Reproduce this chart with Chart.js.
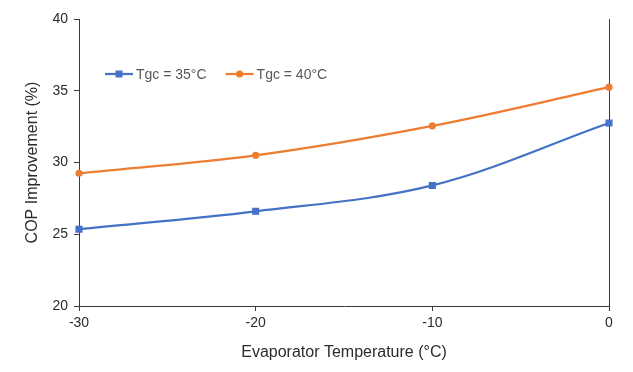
<!DOCTYPE html>
<html>
<head>
<meta charset="utf-8">
<script src="https://cdn.jsdelivr.net/npm/chart.js@4/dist/chart.umd.min.js"></script>
<style>
html,body{margin:0;padding:0;background:#fff;}
#wrap{width:633px;height:372px;position:relative;}
</style>
</head>
<body>
<div id="wrap"><canvas id="c" width="633" height="372"></canvas></div>
<script>
const evapTemps = [-30, -20, -10, 0];
const tgc35 = [25.35, 26.6, 28.4, 32.75];
const tgc40 = [29.25, 30.5, 32.55, 35.25];
const seriesLabels = ['Tgc = 35°C', 'Tgc = 40°C'];
const xTicks = [-30, -20, -10, 0];
const yTicks = [20, 25, 30, 35, 40];
const xTitle = 'Evaporator Temperature (°C)';
const yTitle = 'COP Improvement (%)';

const BLUE = '#4472C4', ORANGE = '#ED7D31', AXIS = '#3a3a3a', TEXT = '#2b2b2b';
const FONT = '"Liberation Sans", Arial, sans-serif';

const legendPlugin = {
  id: 'inlineLegend',
  afterDatasetsDraw(chart) {
    const ctx = chart.ctx, ca = chart.chartArea;
    let x = ca.left + 26;
    const y = ca.top + 55;
    ctx.save();
    ctx.font = '14px ' + FONT;
    ctx.textBaseline = 'middle';
    chart.data.datasets.forEach((ds) => {
      ctx.strokeStyle = ds.borderColor;
      ctx.lineWidth = 2.25;
      ctx.beginPath();
      ctx.moveTo(x, y);
      ctx.lineTo(x + 28, y);
      ctx.stroke();
      ctx.fillStyle = ds.backgroundColor;
      if (ds.pointStyle === 'rect') {
        ctx.fillRect(x + 14 - 3.5, y - 3.5, 7, 7);
      } else {
        ctx.beginPath();
        ctx.arc(x + 14, y, 3.6, 0, Math.PI * 2);
        ctx.fill();
      }
      ctx.fillStyle = '#595959';
      ctx.fillText(ds.label, x + 31, y + 1);
      const w = ctx.measureText(ds.label).width;
      x += 31 + w + 19;
    });
    ctx.restore();
  }
};

new Chart(document.getElementById('c'), {
  type: 'line',
  data: {
    datasets: [
      {
        label: seriesLabels[0],
        data: evapTemps.map((t, i) => ({x: t, y: tgc35[i]})),
        borderColor: BLUE, backgroundColor: BLUE,
        pointStyle: 'rect', pointRadius: 5, pointBorderWidth: 0,
        borderWidth: 2.25, tension: 0.35, clip: false
      },
      {
        label: seriesLabels[1],
        data: evapTemps.map((t, i) => ({x: t, y: tgc40[i]})),
        borderColor: ORANGE, backgroundColor: ORANGE,
        pointStyle: 'circle', pointRadius: 3.6, pointBorderWidth: 0,
        borderWidth: 2.25, tension: 0.35, clip: false
      }
    ]
  },
  options: {
    responsive: false,
    animation: false,
    devicePixelRatio: 1,
    layout: {padding: {left: 0, right: 24, top: 19, bottom: 0}},
    plugins: {legend: {display: false}, tooltip: {enabled: false}},
    scales: {
      x: {
        type: 'linear', min: -30, max: 0,
        afterBuildTicks(scale) { scale.ticks = xTicks.map(v => ({value: v})); },
        afterFit(scale) { scale.height = 66; },
        border: {display: true, color: AXIS, width: 1},
        grid: {
          drawOnChartArea: true, drawTicks: true, tickLength: 5,
          color: (c) => (c.tick && c.tick.value === 0 ? AXIS : 'rgba(0,0,0,0)'),
          tickColor: AXIS, lineWidth: 1
        },
        ticks: {color: TEXT, font: {family: FONT, size: 14}, padding: 4, maxRotation: 0},
        title: {display: true, text: xTitle, color: TEXT, font: {family: FONT, size: 16}, padding: {top: 0, bottom: 10}}
      },
      y: {
        type: 'linear', min: 20, max: 40,
        afterBuildTicks(scale) { scale.ticks = yTicks.map(v => ({value: v})); },
        afterFit(scale) { scale.width = 79; },
        border: {display: true, color: AXIS, width: 1},
        grid: {drawOnChartArea: false, drawTicks: true, tickLength: 5, tickColor: AXIS},
        ticks: {color: TEXT, font: {family: FONT, size: 14}, padding: 6},
        title: {display: true, text: yTitle, color: TEXT, font: {family: FONT, size: 16}, padding: {top: 23, bottom: 0}}
      }
    }
  },
  plugins: [legendPlugin]
});
</script>
</body>
</html>
